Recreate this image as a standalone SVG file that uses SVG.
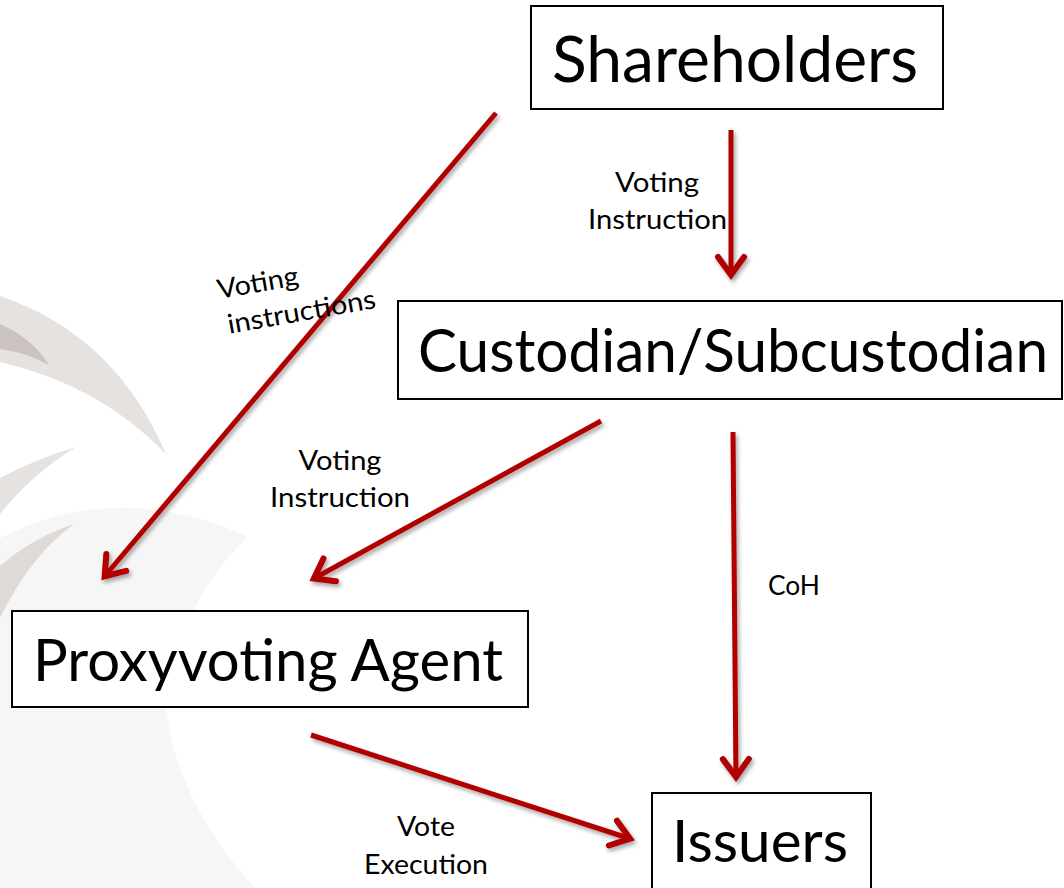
<svg xmlns="http://www.w3.org/2000/svg" width="1064" height="888" viewBox="0 0 1064 888">
  <style>
    .box { fill: #ffffff; stroke: #000000; stroke-width: 2; }
    .big { font-family: Lato, "Liberation Sans", sans-serif; fill: #000000; }
    .lbl { font-family: Lato, "Liberation Sans", sans-serif; font-size: 27px; fill: #000000; }
    .conn { stroke: #b00000; stroke-width: 5; fill: none; marker-end: url(#arrow); }
  </style>
  <defs>
    <marker id="arrow" markerUnits="userSpaceOnUse" refX="0" refY="0" markerWidth="60" markerHeight="60" orient="auto" overflow="visible">
      <path d="M-19,-13 L-1,0 L-19,13" fill="none" stroke="#b00000" stroke-width="6" stroke-linejoin="miter" stroke-linecap="round"/>
    </marker>
    <filter id="shadow" filterUnits="userSpaceOnUse" x="0" y="0" width="1064" height="888">
      <feDropShadow dx="2" dy="3" stdDeviation="2" flood-color="#000000" flood-opacity="0.35"/>
    </filter>
  </defs>

  <rect x="0" y="0" width="1064" height="888" fill="#ffffff"/>

  <g id="background">
    <path d="M0,538 Q120,478 248,537 Q180,600 166,705 Q175,800 255,888 L0,888 Z" fill="#f6f6f6"/>
    <path d="M0,296 Q115,335 166,454 Q100,385 0,362 Z" fill="#e6e2df"/>
    <path d="M0,324 Q32,338 49,365 Q25,352 0,349 Z" fill="#cbc3bf"/>
    <path d="M0,478 Q38,458 76,447 Q32,474 0,514 Z" fill="#e6e2df"/>
    <path d="M0,566 Q32,538 74,524 Q30,556 0,618 Z" fill="#e0dad7"/>
  </g>

  <g id="connectors" filter="url(#shadow)">
    <line class="conn" x1="496" y1="113" x2="104" y2="577"/>
    <line class="conn" x1="731" y1="130" x2="731" y2="276"/>
    <line class="conn" x1="601" y1="421" x2="313" y2="579"/>
    <line class="conn" x1="733" y1="432" x2="736" y2="778"/>
    <line class="conn" x1="311" y1="735" x2="631" y2="839"/>
  </g>

  <g id="labels">
    <text class="lbl" x="657" y="192" text-anchor="middle" textLength="84" lengthAdjust="spacingAndGlyphs">Voting</text>
    <text class="lbl" x="588" y="229" textLength="139" lengthAdjust="spacingAndGlyphs">Instruction</text>
    <g transform="translate(219,299) rotate(-10)">
      <text class="lbl" x="0" y="0" textLength="82" lengthAdjust="spacingAndGlyphs">Voting</text>
      <text class="lbl" x="4" y="36" textLength="150" lengthAdjust="spacingAndGlyphs">instructions</text>
    </g>
    <text class="lbl" x="340" y="470" text-anchor="middle" textLength="83" lengthAdjust="spacingAndGlyphs">Voting</text>
    <text class="lbl" x="270" y="507" textLength="140" lengthAdjust="spacingAndGlyphs">Instruction</text>
    <text class="lbl" x="768" y="595" textLength="52" lengthAdjust="spacingAndGlyphs">CoH</text>
    <text class="lbl" x="426" y="836" text-anchor="middle" textLength="58" lengthAdjust="spacingAndGlyphs">Vote</text>
    <text class="lbl" x="364" y="874" textLength="124" lengthAdjust="spacingAndGlyphs">Execution</text>
  </g>

  <g id="shareholders">
    <rect class="box" x="531" y="6" width="412" height="103"/>
    <text class="big" x="552" y="82" font-size="64" textLength="366" lengthAdjust="spacingAndGlyphs">Shareholders</text>
  </g>

  <g id="custodian">
    <rect class="box" x="398" y="301" width="664" height="98"/>
    <text class="big" x="418" y="372" font-size="60" textLength="630" lengthAdjust="spacingAndGlyphs">Custodian/Subcustodian</text>
  </g>

  <g id="proxyvoting-agent">
    <rect class="box" x="12" y="611" width="516" height="96"/>
    <text class="big" x="33" y="681" font-size="58" textLength="470" lengthAdjust="spacingAndGlyphs">Proxyvoting Agent</text>
  </g>

  <g id="issuers">
    <rect class="box" x="652" y="793" width="219" height="100"/>
    <text class="big" x="672" y="862" font-size="58" textLength="176" lengthAdjust="spacingAndGlyphs">Issuers</text>
  </g>
</svg>
